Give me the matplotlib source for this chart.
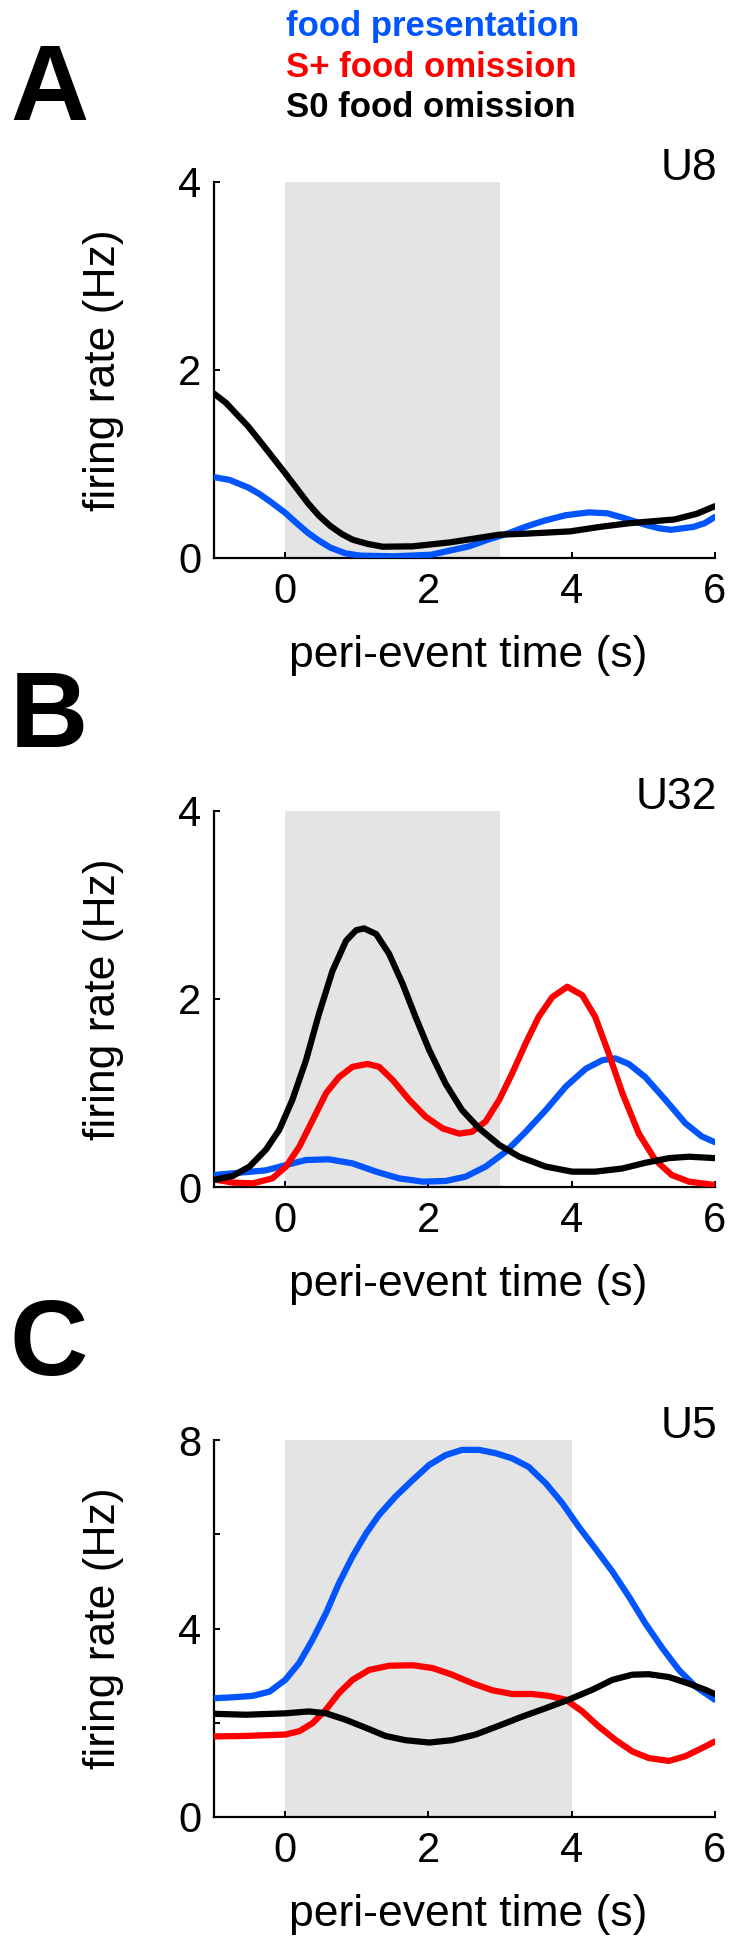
import matplotlib
matplotlib.use("Agg")
import matplotlib.pyplot as plt

plt.rcParams['font.family'] = ['Liberation Sans', 'DejaVu Sans']

W, H = 739, 1946
BLUE = '#0055ff'
RED = '#ff0000'
BLACK = '#000000'

legend_labels = ['food presentation', 'S+ food omission', 'S0 food omission']
panel_letters = ['A', 'B', 'C']
unit_names = ['U8', 'U32', 'U5']

# ---------------- Panel A (U8) ----------------
a_blue_t = [-1, -0.78, -0.52, -0.36, -0.21, 0.0, 0.16, 0.32, 0.47, 0.63, 0.84, 1.05, 1.52, 2.04, 2.57, 2.83,
            3.09, 3.35, 3.61, 3.92, 4.24, 4.50, 4.71, 4.92, 5.07, 5.23, 5.39, 5.70, 5.86, 6.0]
a_blue_r = [0.86, 0.83, 0.75, 0.68, 0.60, 0.48, 0.37, 0.265, 0.185, 0.11, 0.05, 0.025, 0.018, 0.035, 0.124, 0.195,
            0.255, 0.33, 0.395, 0.455, 0.485, 0.475, 0.43, 0.38, 0.345, 0.315, 0.30, 0.33, 0.37, 0.435]
a_black_t = [-1, -0.83, -0.52, -0.31, 0.0, 0.16, 0.32, 0.47, 0.63, 0.79, 0.94, 1.15, 1.36, 1.78, 2.30, 2.99,
             3.35, 3.98, 4.39, 4.81, 5.44, 5.75, 6.0]
a_black_r = [1.75, 1.65, 1.40, 1.20, 0.90, 0.74, 0.58, 0.45, 0.34, 0.255, 0.195, 0.15, 0.12, 0.124, 0.166, 0.248,
             0.258, 0.283, 0.33, 0.37, 0.41, 0.47, 0.55]

# ---------------- Panel B (U32) ----------------
b_blue_t = [-1, -0.64, -0.27, 0.01, 0.29, 0.61, 0.94, 1.27, 1.59, 1.92, 2.24, 2.52, 2.80, 3.08, 3.36, 3.64,
            3.92, 4.20, 4.43, 4.61, 4.80, 5.03, 5.31, 5.59, 5.82, 6.0]
b_blue_r = [0.13, 0.155, 0.18, 0.237, 0.29, 0.297, 0.254, 0.166, 0.095, 0.06, 0.067, 0.113, 0.22, 0.378, 0.59, 0.82,
            1.07, 1.26, 1.35, 1.37, 1.31, 1.17, 0.93, 0.68, 0.54, 0.48]
b_red_t = [-1, -0.735, -0.456, -0.18, 0.01, 0.195, 0.38, 0.57, 0.75, 0.94, 1.15, 1.31, 1.50, 1.73, 1.96, 2.20,
           2.43, 2.61, 2.80, 2.99, 3.17, 3.36, 3.54, 3.73, 3.94, 4.15, 4.33, 4.52, 4.71, 4.94, 5.17, 5.40, 5.64, 6.0]
b_red_r = [0.085, 0.05, 0.042, 0.095, 0.22, 0.43, 0.71, 1.0, 1.17, 1.28, 1.31, 1.28, 1.14, 0.93, 0.75, 0.625,
           0.57, 0.59, 0.70, 0.93, 1.21, 1.53, 1.81, 2.02, 2.13, 2.04, 1.81, 1.42, 1.00, 0.57, 0.29, 0.13, 0.06, 0.025]
b_black_t = [-1, -0.735, -0.50, -0.27, -0.084, 0.10, 0.29, 0.47, 0.66, 0.85, 0.99, 1.10, 1.27, 1.45, 1.64, 1.82,
             2.01, 2.24, 2.47, 2.71, 2.99, 3.27, 3.64, 4.01, 4.33, 4.71, 5.03, 5.36, 5.64, 6.0]
b_black_r = [0.078, 0.12, 0.22, 0.40, 0.61, 0.93, 1.35, 1.84, 2.30, 2.62, 2.73, 2.75, 2.69, 2.48, 2.16, 1.81,
             1.46, 1.10, 0.82, 0.625, 0.45, 0.325, 0.22, 0.166, 0.166, 0.20, 0.26, 0.31, 0.325, 0.31]

# ---------------- Panel C (U5) ----------------
c_blue_t = [-1, -0.735, -0.456, -0.22, 0.0, 0.195, 0.38, 0.57, 0.75, 0.94, 1.13, 1.31, 1.54, 1.78, 2.01, 2.24,
            2.47, 2.71, 2.94, 3.17, 3.40, 3.64, 3.87, 4.10, 4.33, 4.57, 4.80, 5.03, 5.27, 5.50, 5.73, 6.0]
c_blue_r = [2.52, 2.54, 2.57, 2.66, 2.91, 3.27, 3.76, 4.33, 4.96, 5.53, 6.02, 6.41, 6.80, 7.15, 7.47, 7.68,
            7.79, 7.79, 7.72, 7.61, 7.43, 7.08, 6.66, 6.16, 5.70, 5.21, 4.68, 4.11, 3.58, 3.12, 2.77, 2.49]
c_red_t = [-1, -0.55, 0.0, 0.195, 0.38, 0.57, 0.75, 0.94, 1.17, 1.45, 1.78, 2.06, 2.33, 2.61, 2.89, 3.17,
           3.45, 3.68, 3.92, 4.15, 4.38, 4.61, 4.85, 5.08, 5.36, 5.59, 5.82, 6.0]
c_red_r = [1.71, 1.72, 1.75, 1.82, 1.99, 2.28, 2.63, 2.91, 3.12, 3.21, 3.22, 3.16, 3.02, 2.84, 2.69, 2.61,
           2.61, 2.57, 2.49, 2.24, 1.92, 1.64, 1.39, 1.25, 1.19, 1.29, 1.46, 1.60]
c_black_t = [-1, -0.55, 0.0, 0.33, 0.57, 0.85, 1.13, 1.40, 1.68, 2.01, 2.33, 2.66, 2.99, 3.31, 3.64, 3.96,
             4.29, 4.57, 4.85, 5.08, 5.36, 5.64, 5.87, 6.0]
c_black_r = [2.19, 2.17, 2.20, 2.24, 2.20, 2.06, 1.89, 1.72, 1.63, 1.58, 1.63, 1.75, 1.94, 2.13, 2.31, 2.49,
             2.70, 2.91, 3.02, 3.03, 2.97, 2.83, 2.70, 2.61]

# event window (grey) end times and y limits
shade_end = [3, 3, 4]
ymax = [4, 4, 8]
major_yticks = [[0, 2, 4], [0, 2, 4], [0, 4, 8]]
minor_yticks = [[], [], [2, 6]]
xticks = [0, 2, 4, 6]

panels = [
    [(a_blue_t, a_blue_r, BLUE), (a_black_t, a_black_r, BLACK)],
    [(b_blue_t, b_blue_r, BLUE), (b_red_t, b_red_r, RED), (b_black_t, b_black_r, BLACK)],
    [(c_blue_t, c_blue_r, BLUE), (c_red_t, c_red_r, RED), (c_black_t, c_black_r, BLACK)],
]

fig = plt.figure(figsize=(W / 100, H / 100), dpi=100)

def fx(x):
    return x / W

def fy(y):
    return 1 - y / H

ax_left, ax_right = 213.7, 714.7
ax_tops = [181.7, 810.7, 1440.0]
ax_bottoms = [558.0, 1187.3, 1817.0]
letter_base = [120, 747, 1375]

for i in range(3):
    top, bot = ax_tops[i], ax_bottoms[i]
    ax = fig.add_axes([fx(ax_left), fy(bot), (ax_right - ax_left) / W, (bot - top) / H])
    ax.axvspan(0, shade_end[i], ymin=0, ymax=1, color='#e4e4e4', lw=0, zorder=0)
    for t, r, c in panels[i]:
        ax.plot(t, r, color=c, lw=4.5, solid_capstyle='round', solid_joinstyle='round', zorder=3)
    ax.set_xlim(-1, 6)
    ax.set_ylim(0, ymax[i])
    ax.set_xticks(xticks)
    ax.set_yticks(major_yticks[i])
    ax.set_yticks(minor_yticks[i], minor=True)
    for s in ['top', 'right']:
        ax.spines[s].set_visible(False)
    for s in ['left', 'bottom']:
        ax.spines[s].set_linewidth(1.6)
    ax.tick_params(axis='both', which='both', direction='in', length=4.5, width=1.4, labelsize=30)
    ax.tick_params(axis='x', pad=10)
    ax.tick_params(axis='y', pad=9)
    ax.patch.set_alpha(0)
    # axis labels
    fig.text(fx((ax_left + ax_right) / 2 + 4), fy(bot + 109), 'peri-event time (s)',
             ha='center', va='baseline', fontsize=32)
    fig.text(fx(104), fy((top + bot) / 2), 'firing rate (Hz)', rotation=90,
             ha='center', va='center', fontsize=32)
    # unit name
    fig.text(fx(717), fy(top - 2), unit_names[i], ha='right', va='baseline', fontsize=32)
    # panel letter
    fig.text(fx(10), fy(letter_base[i]), panel_letters[i], ha='left', va='baseline',
             fontsize=78, fontweight='bold')

# legend text lines
leg_colors = [BLUE, RED, BLACK]
leg_base = [36, 77, 117]
for lab, col, b in zip(legend_labels, leg_colors, leg_base):
    fig.text(fx(286), fy(b), lab, color=col, ha='left', va='baseline',
             fontsize=25, fontweight='bold')

fig.savefig('out.png', dpi=100)
